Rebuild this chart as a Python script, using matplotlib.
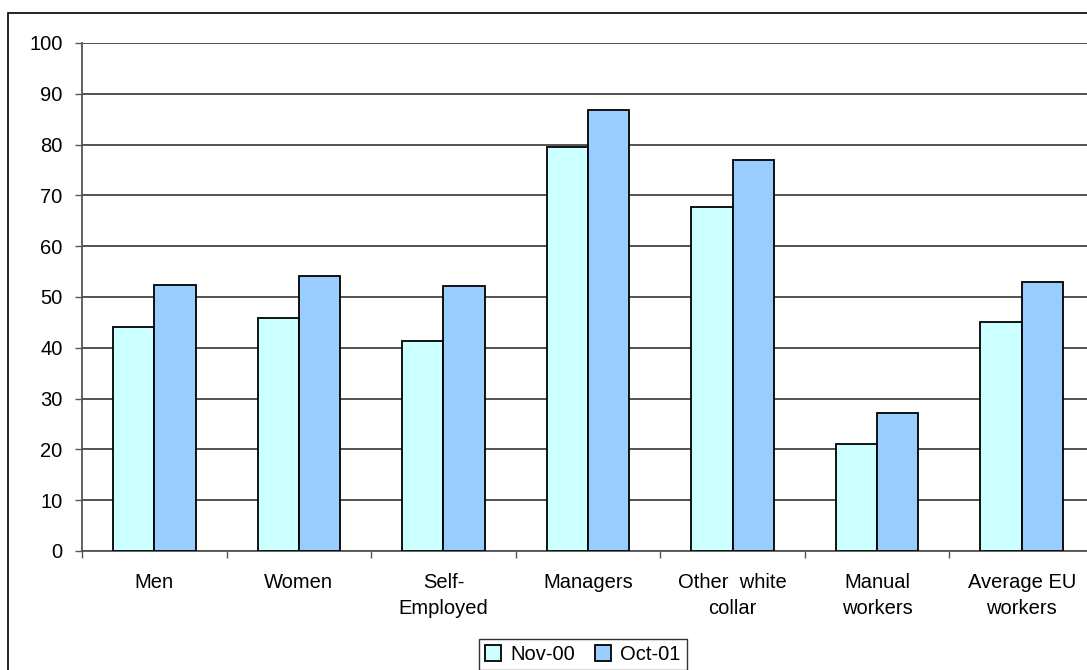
import matplotlib
matplotlib.use("Agg")
import matplotlib.pyplot as plt
import numpy as np
from matplotlib.patches import Rectangle

categories = ["Men", "Women", "Self-\nEmployed", "Managers", "Other  white\ncollar", "Manual\nworkers", "Average EU\nworkers"]
nov00 = [44.0, 45.8, 41.3, 79.6, 67.8, 21.1, 45.0]
oct01 = [52.4, 54.2, 52.2, 86.8, 77.0, 27.2, 53.0]
series_names = ["Nov-00", "Oct-01"]
yticks = [0, 10, 20, 30, 40, 50, 60, 70, 80, 90, 100]

plt.rcParams['font.family'] = ['Liberation Sans', 'DejaVu Sans']
FS = 14.5

W, H = 1087, 670
fig = plt.figure(figsize=(W / 100, H / 100), dpi=100)
fig.patch.set_facecolor('white')

# outer chart frame
fig.patches.append(Rectangle((8 / W, -0.1), 1.2, (H - 13) / H + 0.1, transform=fig.transFigure,
                             fill=False, edgecolor='black', linewidth=1.2, zorder=0))

left, right, top, bottom = 82, 1094, 43, 551
ax = fig.add_axes([left / W, 1 - bottom / H, (right - left) / W, (bottom - top) / H])

n = len(categories)
x = np.arange(n) + 0.5
gw = 1 / 1.75
bw = gw / 2
ax.bar(x - bw / 2, nov00, bw, color='#CCFFFF', edgecolor='black', linewidth=1.3, label=series_names[0], zorder=3)
ax.bar(x + bw / 2, oct01, bw, color='#99CCFF', edgecolor='black', linewidth=1.3, label=series_names[1], zorder=3)

ax.set_xlim(0, n)
ax.set_ylim(0, 100)
ax.set_yticks(yticks)
ax.set_yticklabels([str(v) for v in yticks], fontsize=FS)
ax.yaxis.grid(True, color='#444444', linewidth=1.3, zorder=0)
ax.set_axisbelow(True)

ax.set_xticks(np.arange(n + 1))
ax.set_xticklabels([])
ax.set_xticks(x, minor=True)
ax.set_xticklabels(categories, minor=True, fontsize=FS, linespacing=1.45)
ax.tick_params(axis='x', which='minor', length=0, pad=16)
ax.tick_params(axis='x', which='major', length=5, width=1, color='#555555', direction='out')
ax.tick_params(axis='y', length=5, width=1, color='#555555', direction='out', pad=9)

for s in ['top', 'right']:
    ax.spines[s].set_visible(False)
for s in ['left', 'bottom']:
    ax.spines[s].set_color('#555555')
    ax.spines[s].set_linewidth(1.3)

leg = fig.legend(loc='upper left', bbox_to_anchor=(479 / W, 1 - 639 / H), ncol=2, fontsize=FS,
                 frameon=True, fancybox=False, edgecolor='black', handlelength=0.8, handleheight=0.8,
                 handletextpad=0.45, columnspacing=1.0, borderpad=0.3, borderaxespad=0)
leg.get_frame().set_linewidth(1.0)

fig.savefig("out.png", dpi=100)
